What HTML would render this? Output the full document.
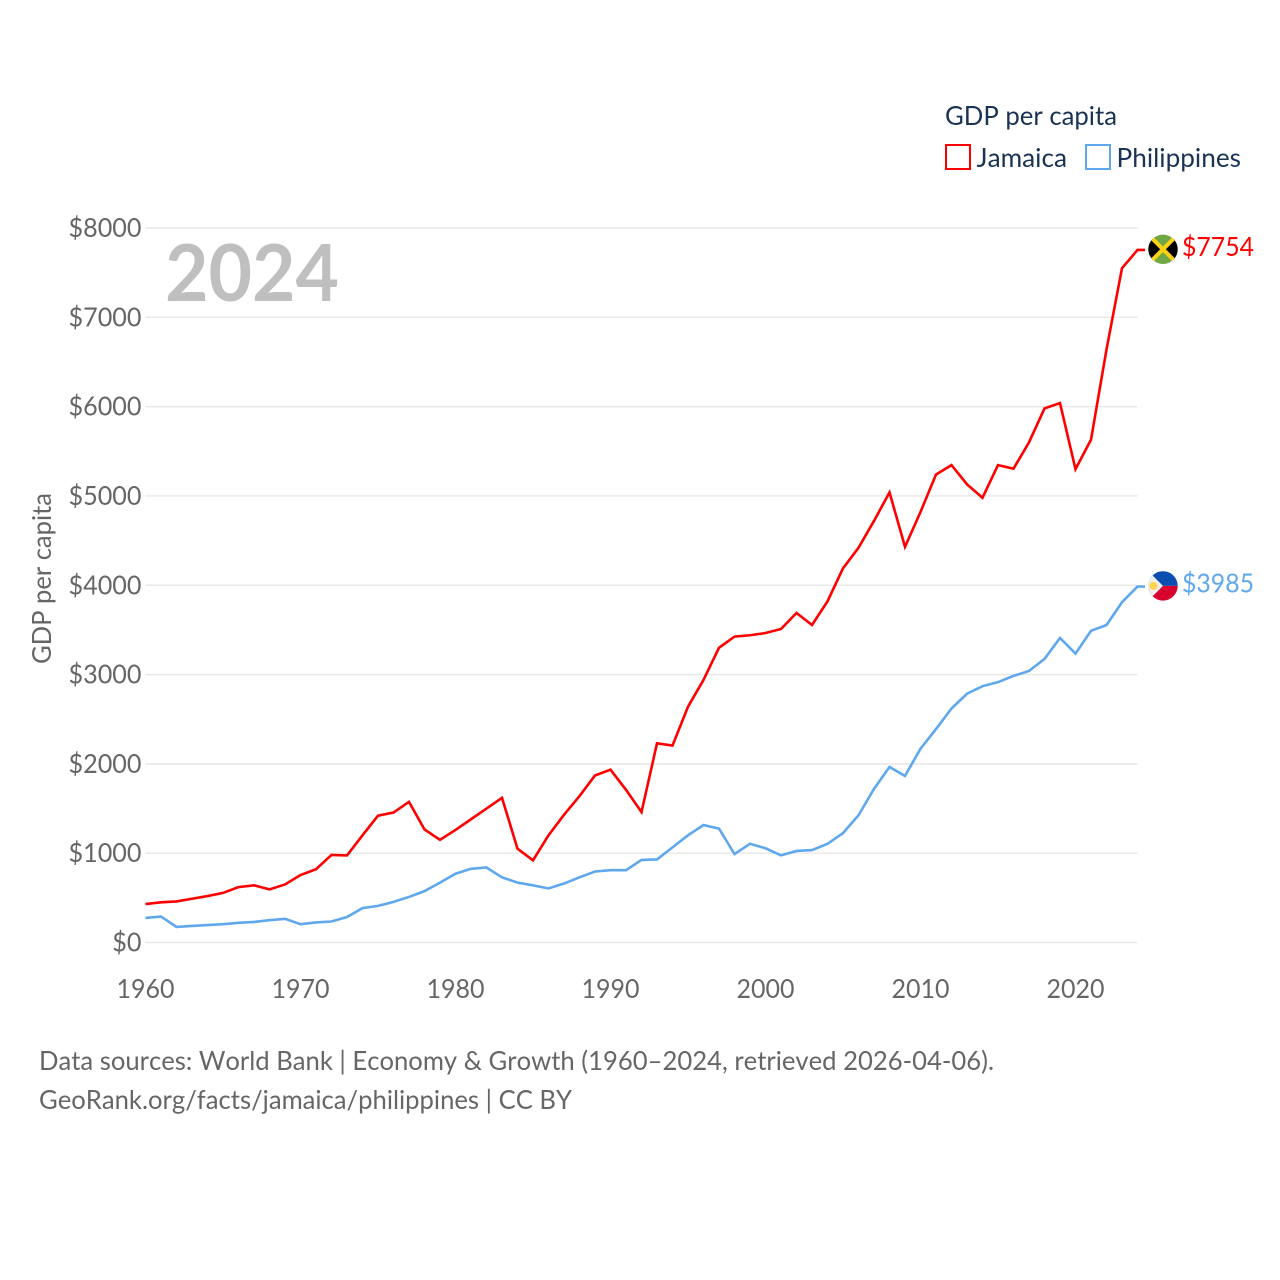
<!DOCTYPE html>
<html lang="en">
<head>
<meta charset="utf-8">
<title>GDP per capita: Jamaica vs Philippines</title>
<style>
html,body{margin:0;padding:0;background:#fff;width:1280px;height:1280px;overflow:hidden}
svg{display:block}
text{font-family:"Lato","Carlito","Liberation Sans",sans-serif;font-kerning:none;text-rendering:optimizeSpeed}
</style>
</head>
<body>
<svg id="chart" xmlns="http://www.w3.org/2000/svg" width="1280" height="1280" viewBox="0 0 1280 1280">
  <defs>
    <clipPath id="flag-clip"><circle cx="0" cy="0" r="14.7"/></clipPath>
  </defs>
  <rect width="1280" height="1280" fill="#fff"/>
  <g id="grid"></g>
  <g id="yticks"></g>
  <g id="xticks"></g>
  <text x="165" y="301" font-size="79" font-weight="700" fill="#bfbfbf" textLength="174" lengthAdjust="spacingAndGlyphs">2024</text>
  <text transform="translate(51,664) rotate(-90)" font-size="26" fill="#666" textLength="171" lengthAdjust="spacingAndGlyphs">GDP per capita</text>
  <g id="series"></g>

  <g id="flag-jamaica">
    <g clip-path="url(#flag-clip)">
      <rect x="-15" y="-15" width="30" height="30" fill="#6fa845"/>
      <path d="M-15,-15L0,0L-15,15Z M15,-15L0,0L15,15Z" fill="#000"/>
      <path d="M-15,-15L15,15 M15,-15L-15,15" stroke="#fcd116" stroke-width="4"/>
    </g>
  </g>
  <g id="flag-philippines">
    <g clip-path="url(#flag-clip)">
      <rect x="-15" y="-15" width="30" height="15" fill="#0a4fb0"/>
      <rect x="-15" y="0" width="30" height="15" fill="#d8002c"/>
      <path d="M-15,-15L0,0L-15,15Z" fill="#eeeeee"/>
      <circle cx="-9.5" cy="0" r="4" fill="#fcd34d"/>
    </g>
  </g>
  <g id="end-labels"></g>

  <g>
    <text x="945" y="125" font-size="26" fill="#1a3355" textLength="172" lengthAdjust="spacingAndGlyphs">GDP per capita</text>
    <rect x="946" y="145" width="24" height="24" fill="#fff" stroke="#ff0000" stroke-width="2"/>
    <text x="976.5" y="167" font-size="26" fill="#1a3355" textLength="90.5" lengthAdjust="spacingAndGlyphs">Jamaica</text>
    <rect x="1086" y="145" width="24" height="24" fill="#fff" stroke="#5fa8ee" stroke-width="2"/>
    <text x="1116.5" y="167" font-size="26" fill="#1a3355" textLength="124.5" lengthAdjust="spacingAndGlyphs">Philippines</text>
  </g>

  <text x="39" y="1070" font-size="26" fill="#666" textLength="955" lengthAdjust="spacingAndGlyphs">Data sources: World Bank | Economy &amp; Growth (1960–2024, retrieved 2026-04-06).</text>
  <text x="39" y="1109" font-size="26" fill="#666" textLength="533" lengthAdjust="spacingAndGlyphs">GeoRank.org/facts/jamaica/philippines | CC BY</text>
</svg>
<script>
const years = [1960,1961,1962,1963,1964,1965,1966,1967,1968,1969,1970,1971,1972,1973,1974,1975,1976,1977,1978,1979,1980,1981,1982,1983,1984,1985,1986,1987,1988,1989,1990,1991,1992,1993,1994,1995,1996,1997,1998,1999,2000,2001,2002,2003,2004,2005,2006,2007,2008,2009,2010,2011,2012,2013,2014,2015,2016,2017,2018,2019,2020,2021,2022,2023,2024];
const jamaicaValues = [430,450,460,490,520,555,620,640,595,650,755,820,980,975,1200,1420,1455,1575,1265,1150,1260,1380,1500,1620,1050,920,1200,1430,1640,1870,1935,1710,1460,2230,2205,2640,2940,3300,3425,3440,3465,3510,3690,3555,3820,4190,4420,4720,5040,4430,4820,5240,5345,5130,4980,5345,5305,5600,5980,6040,5300,5630,6640,7550,7754];
const philippinesValues = [275,290,175,185,195,205,220,230,250,265,205,225,235,285,385,410,455,510,575,670,770,825,840,730,670,640,605,660,730,795,810,810,925,930,1065,1200,1315,1275,990,1105,1055,975,1025,1035,1105,1225,1425,1720,1965,1865,2170,2390,2620,2785,2870,2915,2985,3040,3175,3410,3235,3490,3555,3810,3985];
const yTickValues = [0,1000,2000,3000,4000,5000,6000,7000,8000];
const xTickValues = [1960,1970,1980,1990,2000,2010,2020];

const NS = 'http://www.w3.org/2000/svg';
const xStart = 145.5, xEnd = 1137.5, yZero = 942.5, yTop = 228;
function xScale(year){ return xStart + (year - 1960) * (xEnd - xStart) / 64; }
function yScale(value){ return yZero - value * (yZero - yTop) / 8000; }
function make(tag, parent, attrs){
  const el = document.createElementNS(NS, tag);
  for (const k in attrs) el.setAttribute(k, attrs[k]);
  parent.appendChild(el);
  return el;
}

const grid = document.getElementById('grid');
const yticks = document.getElementById('yticks');
yTickValues.forEach(function(v){
  const line = make('line', grid, {x1:xStart, x2:xEnd, y1:yScale(v), y2:yScale(v), stroke:'#e8e8e8', 'stroke-width':1.4});
  
  
  const label = '$' + v;
  const t = make('text', yticks, {x:141.5, y:yScale(v) + 9, 'text-anchor':'end', 'font-size':26, fill:'#666', textLength: 14.6 * label.length, lengthAdjust:'spacingAndGlyphs'});
  t.textContent = label;
  
  
});

const xticks = document.getElementById('xticks');
xTickValues.forEach(function(y){
  const t = make('text', xticks, {x:xScale(y), y:998, 'text-anchor':'middle', 'font-size':26, fill:'#666', textLength:58, lengthAdjust:'spacingAndGlyphs'});
  t.textContent = String(y);
  
  
});

const seriesGroup = document.getElementById('series');
const endLabels = document.getElementById('end-labels');

function drawSeries(values, color, flagId){
  const pts = values.map(function(v, i){ return xScale(years[i]).toFixed(2) + ',' + yScale(v).toFixed(2); });
  const lastY = yScale(values[values.length - 1]);
  pts.push('1145,' + lastY.toFixed(2));
  const line = make('polyline', seriesGroup, {points:pts.join(' '), fill:'none', stroke:color, 'stroke-width':2.6, 'stroke-linejoin':'miter'});
  
  
  document.getElementById(flagId).setAttribute('transform', 'translate(1163,' + (lastY - 0.7).toFixed(2) + ')');
  const t = make('text', endLabels, {x:1182, y:lastY + 6, 'font-size':26, fill:color, textLength:72, lengthAdjust:'spacingAndGlyphs'});
  t.textContent = '$' + values[values.length - 1];
  
  
}
drawSeries(philippinesValues, '#5fa8ee', 'flag-philippines');
drawSeries(jamaicaValues, '#ff0000', 'flag-jamaica');
</script>
</body>
</html>
